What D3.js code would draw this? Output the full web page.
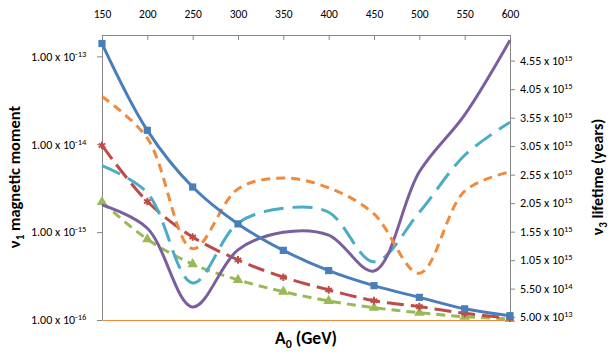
<!DOCTYPE html>
<html>
<head>
<meta charset="utf-8">
<script src="https://cdn.jsdelivr.net/npm/d3@7"></script>
<style>
  body { margin: 0; background: #fff; }
  text { font-family: Carlito, Calibri, Lato, sans-serif; fill: #000; }
</style>
</head>
<body>
<div id="chart"></div>
<script>
// A0 values (GeV)
const a0 = [150, 200, 250, 300, 350, 400, 450, 500, 550, 600];

// v1 magnetic moment (left log axis)
const blueMoment  = [1.40e-13, 1.44e-14, 3.26e-15, 1.24e-15, 6.2e-16, 3.65e-16, 2.46e-16, 1.81e-16, 1.34e-16, 1.12e-16];
const redMoment   = [9.7e-15, 2.23e-15, 8.8e-16, 4.83e-16, 3.07e-16, 2.2e-16, 1.66e-16, 1.42e-16, 1.19e-16, 1.05e-16];
const greenMoment = [2.2e-15, 8.3e-16, 4.32e-16, 2.86e-16, 2.1e-16, 1.65e-16, 1.38e-16, 1.21e-16, 1.09e-16, 1.03e-16];

// v3 lifetime in years (right axis)
const purpleLife = [2.02e15, 1.61e15, 0.23e15, 1.23e15, 1.54e15, 1.49e15, 0.86e15, 2.60e15, 3.60e15, 4.91e15];
const tealLife   = [2.71e15, 2.23e15, 0.65e15, 1.70e15, 1.96e15, 1.89e15, 1.02e15, 1.89e15, 2.89e15, 3.47e15];
const orangeLife = [3.92e15, 3.19e15, 1.25e15, 2.30e15, 2.49e15, 2.32e15, 1.86e15, 0.82e15, 2.26e15, 2.60e15];

// tick values and labels
const topTicks = [150, 200, 250, 300, 350, 400, 450, 500, 550, 600];
const leftTicks = [1e-16, 1e-15, 1e-14, 1e-13];
const leftMant = ['1.00', '1.00', '1.00', '1.00'];
const leftExp = ['-16', '-15', '-14', '-13'];
const rightTicks = [5e13, 5.5e14, 1.05e15, 1.55e15, 2.05e15, 2.55e15, 3.05e15, 3.55e15, 4.05e15, 4.55e15];
const rightMant = ['5.00', '5.50', '1.05', '1.55', '2.05', '2.55', '3.05', '3.55', '4.05', '4.55'];
const rightExp = ['13', '14', '15', '15', '15', '15', '15', '15', '15', '15'];

const width = 614, height = 355;
const plotL = 102, plotR = 510, plotT = 35, plotB = 320;

const x = d3.scaleLinear().domain([150, 600]).range([plotL, plotR]);
const yL = d3.scaleLog().domain([1e-16, 1.75e-13]).range([plotB, plotT]);
const yR = d3.scaleLinear().domain([0, 5e15]).range([plotB, plotT]);

const svg = d3.select('#chart').append('svg')
  .attr('width', width)
  .attr('height', height);

// axes
const axisColor = '#868686';
function styleAxis(g) {
  g.selectAll('path, line').attr('stroke', axisColor);
}

svg.append('g')
  .attr('transform', `translate(0,${plotT})`)
  .call(d3.axisTop(x).tickValues(topTicks).tickSizeInner(-5).tickSizeOuter(0).tickPadding(17))
  .call(styleAxis)
  .call(g => g.selectAll('.tick text').attr('font-size', '11.5px').attr('fill', '#000'));

svg.append('g')
  .attr('transform', `translate(${plotL},0)`)
  .call(d3.axisLeft(yL).tickValues(leftTicks).tickSizeInner(5).tickSizeOuter(0))
  .call(styleAxis)
  .call(g => g.selectAll('.tick text').each(function (d, i) {
    const t = d3.select(this).text(null)
      .attr('x', -71).attr('text-anchor', 'start')
      .attr('font-size', '12px').attr('fill', '#000');
    t.append('tspan').text(leftMant[i] + ' x 10');
    t.append('tspan').attr('dy', '-4').attr('font-size', '8.5px').text(leftExp[i]);
  }));

svg.append('g')
  .attr('transform', `translate(${plotR},0)`)
  .call(d3.axisRight(yR).tickValues(rightTicks).tickSizeInner(5).tickSizeOuter(0).tickPadding(5))
  .call(styleAxis)
  .call(g => g.selectAll('.tick text').each(function (d, i) {
    const t = d3.select(this).text(null)
      .attr('font-size', '12px').attr('fill', '#000');
    t.append('tspan').text(rightMant[i] + ' x 10');
    t.append('tspan').attr('dy', '-4').attr('font-size', '8.5px').text(rightExp[i]);
  }));

svg.append('g')
  .attr('transform', `translate(0,${plotB})`)
  .call(d3.axisBottom(x).tickValues([]).tickSizeOuter(0))
  .call(g => g.select('.domain').attr('stroke', '#f0883e'));

// series
const series = [
  { vals: greenMoment, y: yL, color: '#98b954', dash: '9,6', marker: 'tri' },
  { vals: redMoment, y: yL, color: '#be4b48', dash: '17,7', marker: 'star' },
  { vals: tealLife, y: yR, color: '#4bacc6', dash: '20,9' },
  { vals: purpleLife, y: yR, color: '#7b5e9f', dash: null },
  { vals: orangeLife, y: yR, color: '#f08a3c', dash: '9,6' },
  { vals: blueMoment, y: yL, color: '#4a7ebb', dash: null, marker: 'sq' }
];

series.forEach(s => {
  const line = d3.line()
    .x((d, i) => x(a0[i]))
    .y(d => s.y(d))
    .curve(d3.curveCatmullRom.alpha(0.5));
  svg.append('path')
    .attr('d', line(s.vals))
    .attr('fill', 'none')
    .attr('stroke', s.color)
    .attr('stroke-width', 3)
    .attr('stroke-dasharray', s.dash);

  if (s.marker) {
    let sym;
    if (s.marker === 'sq') sym = d3.symbol(d3.symbolSquare, 52);
    else if (s.marker === 'tri') sym = d3.symbol(d3.symbolTriangle, 48);
    else sym = d3.symbol(d3.symbolAsterisk || d3.symbolCross, 40);
    svg.append('g').selectAll('path')
      .data(s.vals)
      .join('path')
      .attr('transform', (d, i) => `translate(${x(a0[i])},${s.y(d)})`)
      .attr('d', sym)
      .attr('fill', s.marker === 'star' ? 'none' : s.color)
      .attr('stroke', s.color)
      .attr('stroke-width', s.marker === 'star' ? 2 : 0);
  }
});

// axis titles
const lt = svg.append('text')
  .attr('transform', 'translate(20,177) rotate(-90)')
  .attr('text-anchor', 'middle')
  .attr('font-size', '16.5px').attr('font-weight', 'bold');
lt.append('tspan').text('ν');
lt.append('tspan').attr('dy', 4).attr('font-size', '11px').text('1');
lt.append('tspan').attr('dy', -4).text(' magnetic moment');

const rt = svg.append('text')
  .attr('transform', 'translate(603,177) rotate(-90)')
  .attr('text-anchor', 'middle')
  .attr('font-size', '16px').attr('font-weight', 'bold');
rt.append('tspan').text('ν');
rt.append('tspan').attr('dy', 4).attr('font-size', '11px').text('3');
rt.append('tspan').attr('dy', -4).text(' lifetime (years)');

const bt = svg.append('text')
  .attr('x', 306).attr('y', 344)
  .attr('text-anchor', 'middle')
  .attr('font-size', '17.5px').attr('font-weight', 'bold');
bt.append('tspan').text('A');
bt.append('tspan').attr('dy', 4).attr('font-size', '12px').text('0');
bt.append('tspan').attr('dy', -4).text(' (GeV)');
</script>
</body>
</html>
